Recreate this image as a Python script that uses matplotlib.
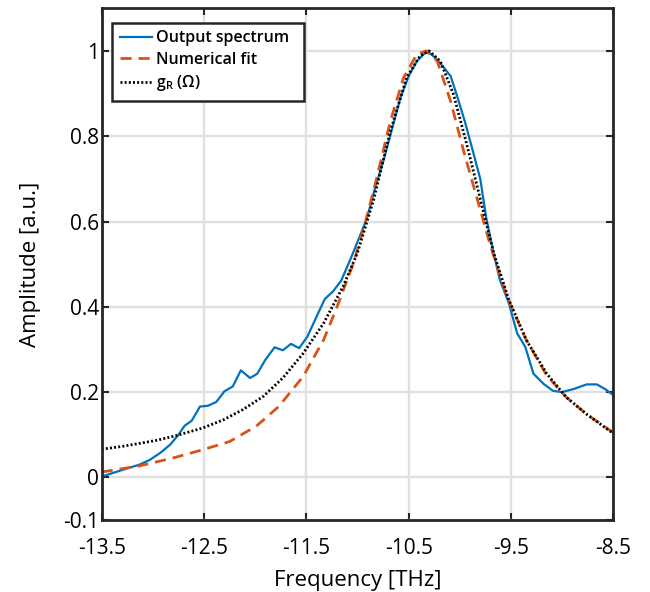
import matplotlib

matplotlib.use("Agg")

import matplotlib.pyplot as plt

# measured output spectrum
blue_x = [-13.5, -13.29, -13.13, -13.03, -12.93, -12.83, -12.75, -12.69, -12.62, -12.54,
          -12.46, -12.38, -12.30, -12.22, -12.14, -12.05, -11.98, -11.90, -11.81, -11.73,
          -11.65, -11.57, -11.49, -11.40, -11.32, -11.24, -11.16, -11.07, -10.99, -10.91,
          -10.83, -10.74, -10.66, -10.58, -10.50, -10.42, -10.32, -10.24, -10.17, -10.09,
          -10.03, -9.95, -9.87, -9.80, -9.74, -9.67, -9.61, -9.52, -9.44, -9.36,
          -9.28, -9.18, -9.09, -9.00, -8.89, -8.76, -8.66, -8.58, -8.50]
blue_y = [0.002, 0.018, 0.030, 0.041, 0.057, 0.077, 0.100, 0.121, 0.133, 0.166,
          0.168, 0.177, 0.202, 0.213, 0.251, 0.233, 0.243, 0.276, 0.305, 0.298,
          0.313, 0.303, 0.330, 0.377, 0.418, 0.436, 0.461, 0.511, 0.558, 0.606,
          0.677, 0.748, 0.819, 0.890, 0.941, 0.976, 1.000, 0.984, 0.965, 0.941,
          0.897, 0.834, 0.763, 0.700, 0.606, 0.527, 0.464, 0.408, 0.338, 0.306,
          0.243, 0.219, 0.203, 0.200, 0.207, 0.218, 0.218, 0.207, 0.193]

# numerical fit
fit_x = [-13.5, -13.13, -12.81, -12.51, -12.25, -11.99, -11.77, -11.53, -11.33, -11.20,
         -11.04, -10.91, -10.84, -10.68, -10.55, -10.42, -10.33, -10.22, -10.09, -9.96,
         -9.83, -9.70, -9.54, -9.35, -9.15, -8.96, -8.76, -8.50]
fit_y = [0.0125, 0.027, 0.045, 0.065, 0.084, 0.120, 0.166, 0.237, 0.323, 0.400,
         0.502, 0.610, 0.675, 0.834, 0.937, 0.992, 1.000, 0.976, 0.882, 0.763,
         0.653, 0.543, 0.424, 0.322, 0.239, 0.188, 0.148, 0.105]

# Raman gain g_R(Omega)
gain_x = [-13.5, -13.29, -12.96, -12.77, -12.51, -12.31, -12.12, -11.92, -11.73, -11.53,
          -11.33, -11.14, -11.0, -10.84, -10.68, -10.52, -10.39, -10.30, -10.19, -10.06,
          -9.93, -9.80, -9.67, -9.52, -9.35, -9.15, -8.96, -8.76, -8.50]
gain_y = [0.066, 0.073, 0.087, 0.098, 0.116, 0.135, 0.159, 0.190, 0.233, 0.291,
          0.362, 0.448, 0.527, 0.653, 0.811, 0.937, 0.988, 1.000, 0.976, 0.897,
          0.779, 0.653, 0.527, 0.416, 0.322, 0.243, 0.188, 0.148, 0.103]

x_ticks = [-13.5, -12.5, -11.5, -10.5, -9.5, -8.5]
y_ticks = [-0.1, 0, 0.2, 0.4, 0.6, 0.8, 1]
y_tick_labels = ["-0.1", "0", "0.2", "0.4", "0.6", "0.8", "1"]

plt.rcParams["font.family"] = ["Open Sans", "DejaVu Sans"]

fig = plt.figure(figsize=(6.5, 5.92), dpi=100)
ax = fig.add_axes([0.1565, 0.1216, 0.787, 0.8644])

ax.plot(blue_x, blue_y, color="#0072BD", lw=1.6, label="Output spectrum  ")
ax.plot(fit_x, fit_y, color="#D95319", lw=2.0, ls=(0, (4, 2.5)), label="Numerical fit")
ax.plot(gain_x, gain_y, color="black", lw=2.0, ls=(0, (0.7, 0.8)),
        label="g$_\\mathregular{R}$ (Ω)")

ax.set_xlim(-13.5, -8.5)
ax.set_ylim(-0.1, 1.1)
ax.set_xticks(x_ticks)
ax.set_xticklabels([f"{t:g}" for t in x_ticks])
ax.set_yticks(y_ticks)
ax.set_yticklabels(y_tick_labels)
ax.tick_params(direction="in", top=True, right=True, length=5, width=1.5,
               labelsize=15, color="#262626", labelcolor="black")
ax.tick_params(axis="x", pad=13)
ax.tick_params(axis="y", pad=2)
ax.grid(True, color="#e0e0e0", lw=1.7)
ax.set_axisbelow(True)
for sp in ax.spines.values():
    sp.set_linewidth(2.0)
    sp.set_color("#262626")

ax.set_xlabel("Frequency [THz]", fontsize=16, labelpad=8)
ax.set_ylabel("Amplitude [a.u.]", fontsize=16, labelpad=16)

leg = ax.legend(loc="upper left", fontsize=11.5, handlelength=2.0, handletextpad=0.25,
                labelspacing=0.35, borderpad=0.45, borderaxespad=0, fancybox=False,
                framealpha=1, edgecolor="#262626", bbox_to_anchor=(0.021, 0.971))
leg.get_frame().set_linewidth(1.8)
for t in leg.get_texts():
    t.set_fontweight("semibold")

fig.savefig("out.png", dpi=100)
